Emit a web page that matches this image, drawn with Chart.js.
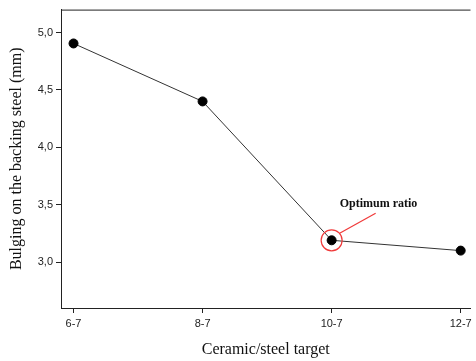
<!DOCTYPE html>
<html>
<head>
<meta charset="utf-8">
<script src="https://cdn.jsdelivr.net/npm/chart.js@4/dist/chart.umd.min.js"></script>
<style>
  html, body { margin: 0; padding: 0; background: #fff; }
  canvas { display: block; }
</style>
</head>
<body>
<canvas id="c" width="476" height="361"></canvas>
<script>
// Ceramic/steel thickness combinations and measured bulge of the backing plate
const categories = ['6-7', '8-7', '10-7', '12-7'];
const bulging = [4.905, 4.40, 3.19, 3.10];
const yTickValues = [3.0, 3.5, 4.0, 4.5, 5.0];
const optimumIndex = 2;
const optimumLabel = 'Optimum ratio';

const points = bulging.map((v, i) => ({ x: i, y: v }));

// Frame line along the top of the plot, red marker circle and callout
const decorations = {
  id: 'decorations',
  afterDatasetsDraw(chart) {
    const { ctx, chartArea, scales } = chart;
    ctx.save();
    ctx.strokeStyle = '#222';
    ctx.lineWidth = 1;
    ctx.beginPath();
    ctx.moveTo(chartArea.left, chartArea.top + 0.5);
    ctx.lineTo(chartArea.right, chartArea.top + 0.5);
    ctx.stroke();

    const px = scales.x.getPixelForValue(optimumIndex);
    const py = scales.y.getPixelForValue(bulging[optimumIndex]);
    ctx.strokeStyle = '#f03a3a';
    ctx.lineWidth = 1.2;
    ctx.beginPath();
    ctx.arc(px, py, 10.5, 0, Math.PI * 2);
    ctx.stroke();
    ctx.beginPath();
    ctx.moveTo(px + 8, py - 7);
    ctx.lineTo(px + 44, py - 27);
    ctx.stroke();

    ctx.fillStyle = '#111';
    ctx.font = 'bold 12px "Liberation Serif", "Times New Roman", serif';
    ctx.textAlign = 'left';
    ctx.textBaseline = 'middle';
    ctx.fillText(optimumLabel, px + 8, py - 36);
    ctx.restore();
  }
};

new Chart(document.getElementById('c'), {
  type: 'line',
  data: {
    datasets: [{
      data: points,
      borderColor: '#333',
      borderWidth: 1,
      backgroundColor: '#000',
      pointBackgroundColor: '#000',
      pointBorderColor: '#000',
      pointRadius: 4.5,
      tension: 0
    }]
  },
  options: {
    responsive: false,
    animation: false,
    layout: { padding: { top: 7, right: 0, left: 0, bottom: 0 } },
    plugins: { legend: { display: false }, tooltip: { enabled: false } },
    scales: {
      x: {
        type: 'linear',
        min: -0.097,
        max: 3.076,
        afterBuildTicks(scale) { scale.ticks = categories.map((c, i) => ({ value: i })); },
        afterFit(scale) { scale.height = 53; },
        ticks: {
          callback: (v) => categories[v],
          color: '#222',
          padding: 4,
          maxRotation: 0,
          font: { family: '"Liberation Sans", Arial, sans-serif', size: 11 }
        },
        grid: { drawOnChartArea: false, drawTicks: true, tickLength: 5, color: '#222' },
        border: { display: true, color: '#222', width: 1 },
        title: {
          display: true,
          text: 'Ceramic/steel target',
          color: '#111',
          padding: { top: 0, bottom: 2 },
          font: { family: '"Liberation Serif", "Times New Roman", serif', size: 16 }
        }
      },
      y: {
        min: 2.6,
        max: 5.2,
        afterBuildTicks(scale) { scale.ticks = yTickValues.map(v => ({ value: v })); },
        afterFit(scale) { scale.width = 61; },
        ticks: {
          callback: (v) => v.toFixed(1).replace('.', ','),
          color: '#222',
          padding: 3,
          font: { family: '"Liberation Sans", Arial, sans-serif', size: 11 }
        },
        grid: { drawOnChartArea: false, drawTicks: true, tickLength: 5, color: '#222' },
        border: { display: true, color: '#222', width: 1 },
        title: {
          display: true,
          text: 'Bulging on the backing steel (mm)',
          color: '#111',
          padding: { top: 7, bottom: 0 },
          font: { family: '"Liberation Serif", "Times New Roman", serif', size: 16 }
        }
      }
    }
  },
  plugins: [decorations]
});
</script>
</body>
</html>
